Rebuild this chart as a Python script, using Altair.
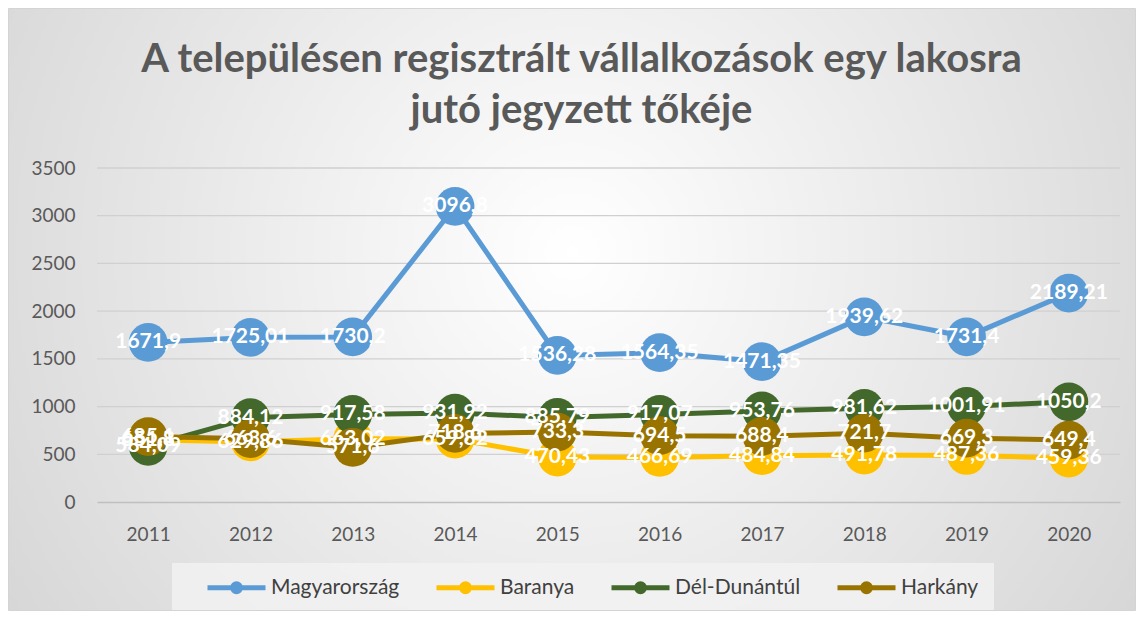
import altair as alt
import pandas as pd

years = ["2011", "2012", "2013", "2014", "2015", "2016", "2017", "2018", "2019", "2020"]
series = ["Magyarország", "Baranya", "Dél-Dunántúl", "Harkány"]
colors = ["#5B9BD5", "#FFC000", "#43682B", "#997300"]

magyarorszag = [1671.9, 1725.01, 1730.2, 3096.8, 1536.28, 1564.35, 1471.35, 1939.62, 1731.4, 2189.21]
baranya = [651.8, 629.86, 663.02, 659.82, 470.43, 466.69, 484.84, 491.78, 487.36, 459.36]
del_dunantul = [584.09, 884.12, 917.58, 931.92, 885.79, 917.07, 953.76, 981.62, 1001.91, 1050.2]
harkany = [685.1, 663.6, 571.6, 718.6, 733.3, 694.5, 688.4, 721.7, 669.3, 649.4]

title_lines = ["A településen regisztrált vállalkozások egy lakosra", "jutó jegyzett tőkéje"]
grid_values = [500, 1000, 1500, 2000, 2500, 3000, 3500]
y_ticks = [0, 500, 1000, 1500, 2000, 2500, 3000, 3500]

rows = []
for name, vals in zip(series, [magyarorszag, baranya, del_dunantul, harkany]):
    for yr, v in zip(years, vals):
        rows.append({"Év": yr, "Sorozat": name, "Érték": v,
                     "Címke": ("%g" % v).replace(".", ",")})
df = pd.DataFrame(rows)

W, H = 1023, 334
PL, PT, PR, PB = 89, 160, 16, 109

color_scale = alt.Scale(domain=series, range=colors)

bg = alt.Chart(pd.DataFrame({"a": [0]})).mark_rect(
    fill={"gradient": "radial", "x1": 0.5, "y1": 0.45, "r1": 0.0,
          "x2": 0.5, "y2": 0.45, "r2": 0.75,
          "stops": [{"offset": 0, "color": "#ffffff"},
                    {"offset": 1, "color": "#cccccc"}]},
    stroke="#d4d4d4", strokeWidth=1,
).encode(
    x=alt.value(-PL + 0.5), x2=alt.value(W + PR - 0.5),
    y=alt.value(-PT + 0.5), y2=alt.value(H + PB - 0.5),
)

legend_box = alt.Chart(pd.DataFrame({"a": [0]})).mark_rect(
    fill="#f2f2f2", opacity=0.8
).encode(
    x=alt.value(75), x2=alt.value(897), y=alt.value(395), y2=alt.value(442)
)

grid = alt.Chart(pd.DataFrame({"g": grid_values})).mark_rule(
    color="#d0d0d0", strokeWidth=1.3
).encode(y=alt.Y("g:Q", scale=alt.Scale(domain=[0, 3500])))

x_enc = alt.X("Év:O", sort=years, title=None,
              axis=alt.Axis(labelFont="Lato", labelFontSize=19, labelColor="#595959",
                            labelAngle=0, ticks=False, domainColor="#bfbfbf",
                            domainWidth=1.3, labelPadding=23, grid=False, zindex=1))
y_enc = alt.Y("Érték:Q", title=None,
              scale=alt.Scale(domain=[0, 3500]),
              axis=alt.Axis(values=y_ticks, format="d", labelFont="Lato", labelFontSize=19,
                            labelColor="#595959", ticks=False, domain=False,
                            grid=False, labelPadding=22, zindex=1))

legend = alt.Legend(
    title=None, orient="none", legendX=127, legendY=407, direction="horizontal",
    columns=4, labelFont="Lato", labelFontSize=21, labelColor="#404040",
    symbolType="M-2.9,0L2.9,0M0.4,0A0.4,0.4,0,1,1,-0.4,0A0.4,0.4,0,1,1,0.4,0",
    symbolSize=400, symbolStrokeWidth=5, labelOffset=22, columnPadding=26,
    padding=0, rowPadding=0, zindex=2,
)

base = alt.Chart(df)
lines = base.mark_line(strokeWidth=5).encode(
    x=x_enc, y=y_enc,
    color=alt.Color("Sorozat:N", scale=color_scale, sort=series, legend=legend),
    detail="Sorozat:N",
)
points = base.mark_circle(size=1500, opacity=1).encode(
    x=x_enc, y=y_enc,
    color=alt.Color("Sorozat:N", scale=color_scale, sort=series, legend=legend),
)
labels = base.mark_text(font="Lato", fontSize=21, fontWeight="bold", color="white",
                        align="center", baseline="middle").encode(
    x=x_enc, y=y_enc, text="Címke:N"
)

chart = alt.layer(bg, legend_box, grid, lines, points, labels).properties(
    width=W, height=H,
    autosize=alt.AutoSizeParams(type="none"),
    padding={"left": PL, "top": PT, "right": PR, "bottom": PB},
    title=alt.TitleParams(
        text=title_lines,
        anchor="middle", font="Lato", fontSize=40, fontWeight="bold",
        color="#595959", lineHeight=51, offset=0, dx=-27, dy=123,
        baseline="top", zindex=2,
    ),
).configure_view(stroke=None).configure(background="white")

chart.save("out.html", embed_options={"renderer": "svg", "actions": False})
